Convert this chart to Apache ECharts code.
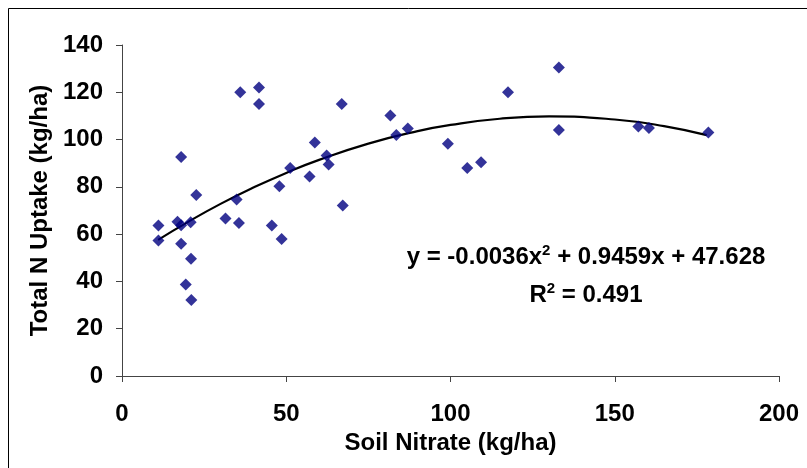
<!DOCTYPE html>
<html>
<head>
<meta charset="utf-8">
<script src="https://cdn.jsdelivr.net/npm/echarts@6/dist/echarts.min.js"></script>
<style>
  html, body { margin: 0; padding: 0; background: #fff; }
  #chart { width: 807px; height: 468px; }
</style>
</head>
<body>
<div id="chart"></div>
<script>
// soil nitrate (x) and total N uptake (y)
var nitrate = [
  11.1, 11.1, 16.9, 18.0, 18.0, 18.0, 19.4, 20.9, 21.0, 21.1,
  22.6, 31.5, 34.9, 35.6, 36.0, 41.7, 41.7, 45.6, 47.9, 48.6,
  51.2, 57.1, 58.7, 62.3, 62.9, 66.9, 67.2, 81.7, 83.5, 87.0,
  99.2, 105.1, 109.3, 117.5, 133.0, 133.0, 157.2, 160.4, 178.5
];
var uptake = [
  63.7, 57.3, 65.2, 92.6, 63.8, 55.9, 38.7, 65.0, 49.6, 32.1,
  76.6, 66.6, 74.7, 64.7, 120.0, 122.0, 115.0, 63.7, 80.3, 57.9,
  88.0, 84.4, 98.8, 93.3, 89.5, 115.0, 72.1, 110.2, 101.9, 104.7,
  98.2, 88.0, 90.4, 120.0, 130.5, 104.0, 105.5, 104.9, 103.0
];
// trend curve, points
var trendX = [11, 20, 30, 40, 50, 60, 75, 90, 100, 115, 130, 150, 165, 178];
var trendY = [57.6, 65.1, 72.8, 79.7, 85.9, 91.4, 98.3, 103.6, 106.2, 108.8, 109.8, 108.5, 105.7, 101.9];
var xTicks = [0, 50, 100, 150, 200];
var yTicks = [0, 20, 40, 60, 80, 100, 120, 140];

var font = 'Liberation Sans, Arial, sans-serif';
var myChart = echarts.init(document.getElementById('chart'));

var points = nitrate.map(function (x, i) { return [x, uptake[i]]; });
var trend = trendX.map(function (x, i) { return [x, trendY[i]]; });

var eqRich = {
  a: { fontSize: 24, fontWeight: 'bold', fontFamily: font, fill: '#000', lineHeight: 28 },
  s: { fontSize: 15, fontWeight: 'bold', fontFamily: font, fill: '#000', verticalAlign: 'top', lineHeight: 28, padding: [0, 0, 10, 0] }
};

var option = {
  backgroundColor: '#fff',
  animation: false,
  grid: { left: 122, right: 28, top: 45, bottom: 92 },
  xAxis: {
    type: 'value',
    min: xTicks[0],
    max: xTicks[xTicks.length - 1],
    interval: 50,
    name: 'Soil Nitrate (kg/ha)',
    nameLocation: 'middle',
    nameGap: 54,
    nameTextStyle: { color: '#000', fontWeight: 'bold', fontSize: 24, fontFamily: font },
    axisLine: { lineStyle: { color: '#444', width: 1 } },
    axisTick: { show: true, length: 6, lineStyle: { color: '#444' } },
    axisLabel: { color: '#000', fontWeight: 'bold', fontSize: 24, fontFamily: font, margin: 26 },
    splitLine: { show: false }
  },
  yAxis: {
    type: 'value',
    min: yTicks[0],
    max: yTicks[yTicks.length - 1],
    interval: 20,
    name: 'Total N Uptake (kg/ha)',
    nameLocation: 'middle',
    nameGap: 70,
    nameTextStyle: { color: '#000', fontWeight: 'bold', fontSize: 24, fontFamily: font },
    axisLine: { show: true, lineStyle: { color: '#444', width: 1 } },
    axisTick: { show: true, length: 6, lineStyle: { color: '#444' } },
    axisLabel: { color: '#000', fontWeight: 'bold', fontSize: 24, fontFamily: font, margin: 19 },
    splitLine: { show: false }
  },
  series: [
    {
      name: 'trend',
      type: 'line',
      data: trend,
      smooth: true,
      showSymbol: false,
      lineStyle: { color: '#000', width: 2.2 },
      z: 1
    },
    {
      name: 'N uptake',
      type: 'scatter',
      data: points,
      symbol: 'diamond',
      symbolSize: 12,
      itemStyle: { color: '#000080' },
      z: 2
    }
  ],
  graphic: [
    {
      type: 'rect',
      shape: { x: 8.5, y: 8.5, width: 820, height: 480 },
      style: { fill: 'none', stroke: '#000', lineWidth: 1 },
      silent: true
    },
    {
      type: 'text',
      x: 586,
      y: 257,
      style: {
        text: '{a|y = -0.0036x}{s|2}{a| + 0.9459x + 47.628}',
        align: 'center',
        verticalAlign: 'middle',
        rich: eqRich
      }
    },
    {
      type: 'text',
      x: 586,
      y: 295,
      style: {
        text: '{a|R}{s|2}{a| = 0.491}',
        align: 'center',
        verticalAlign: 'middle',
        rich: eqRich
      }
    }
  ]
};
myChart.setOption(option);
</script>
</body>
</html>
